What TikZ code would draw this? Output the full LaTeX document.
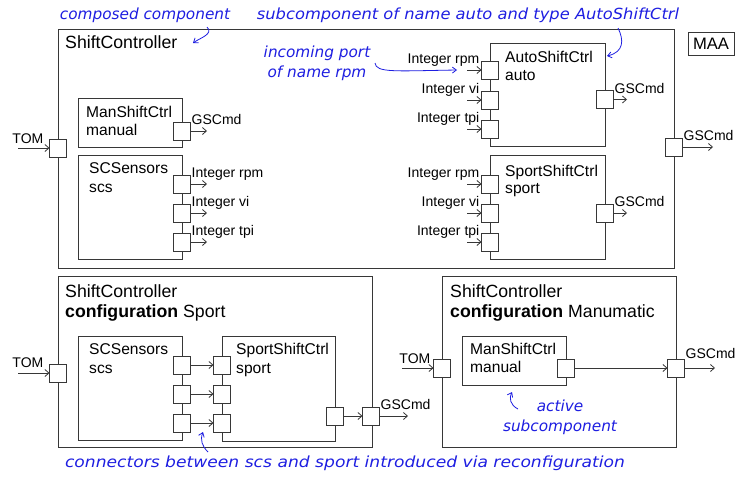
\documentclass[tikz,border=0pt]{standalone}
\usepackage{fontspec}
\setmainfont{Liberation Sans}
\newfontfamily\notefont{DejaVu Sans}
\usetikzlibrary{arrows.meta,calc}
\definecolor{linecol}{RGB}{55,55,55}
\definecolor{notecol}{RGB}{30,30,225}
\begin{document}
\begin{tikzpicture}[x=1pt,y=-1pt,
  comp/.style={draw=linecol, line width=1pt, fill=white, outer sep=0pt, inner sep=0pt, anchor=north west},
  port/.style={draw=linecol, line width=1pt, fill=white, minimum width=17pt, minimum height=18pt, inner sep=0pt, outer sep=0pt},
  lbl/.style={font=\fontsize{14}{16}\selectfont, inner sep=0pt},
  ttl/.style={font=\fontsize{17.7}{20}\selectfont, inner sep=0pt, anchor=base west},
  subttl/.style={font=\fontsize{15.6}{18}\selectfont, inner sep=0pt, anchor=base west},
  note/.style={text=notecol, font=\notefont\itshape\fontsize{15.3}{20}\selectfont, inner sep=0pt, align=center},
  flow/.style={-{Straight Barb[length=4pt,width=7pt]}, line width=0.8pt, draw=linecol},
  notearrow/.style={-{Straight Barb[length=4pt,width=6pt]}, draw=notecol, line width=0.8pt}]
\useasboundingbox (0,0) rectangle (735,477);

% ---------- composed component ShiftController ----------
\node[comp, minimum width=616pt, minimum height=239pt] (sc) at (58,29) {};
\node[ttl] (sct) at (65,48) {ShiftController};

% manual subcomponent
\node[comp, minimum width=104pt, minimum height=49pt] (man) at (78,98) {};
\node[subttl] (mant1) at (86,117) {ManShiftCtrl};
\node[subttl] (mant2) at (86,135) {manual};
\node[port] (mo) at (182,131) {};
\coordinate (moE) at (207,131);
\draw[flow] (mo.east) -- (moE);
\node[lbl, anchor=base west] (mol) at ($(mo.north east)+(1,2.5)$) {GSCmd};

% scs subcomponent
\node[comp, minimum width=104pt, minimum height=104pt] (scs) at (78,155) {};
\node[subttl] (scst1) at (89,173) {SCSensors};
\node[subttl] (scst2) at (89,192) {scs};
\foreach \n/\y/\t in {s1/184/rpm, s2/213/vi, s3/242/tpi}{
  \node[port] (\n) at (182,\y) {};
  \coordinate (\n E) at (207,\y);
  \draw[flow] (\n.east) -- (\n E);
  \node[lbl, anchor=base west] (\n l) at ($(\n.north east)+(1,2.5)$) {Integer \t};
}

% auto subcomponent
\node[comp, minimum width=115pt, minimum height=103pt] (auto) at (490,43) {};
\node[subttl] (autot1) at (505,62) {AutoShiftCtrl};
\node[subttl] (autot2) at (505,80) {auto};
\foreach \n/\y/\t in {a1/70/rpm, a2/100/vi, a3/129/tpi}{
  \node[port] (\n) at (490,\y) {};
  \coordinate (\n W) at (467,\y);
  \draw[flow] (\n W) -- (\n.west);
  \node[lbl, anchor=base east] (\n l) at ($(\n.north west)+(-2,2.5)$) {Integer \t};
}
\node[port] (ao) at (605,99.5) {};
\coordinate (aoE) at (627,99.5);
\draw[flow] (ao.east) -- (aoE);
\node[lbl, anchor=base west] (aol) at ($(ao.north east)+(1,2.5)$) {GSCmd};

% sport subcomponent
\node[comp, minimum width=115pt, minimum height=104pt] (sport) at (490,155) {};
\node[subttl] (sportt1) at (505,176) {SportShiftCtrl};
\node[subttl] (sportt2) at (505,193) {sport};
\foreach \n/\y/\t in {p1/184/rpm, p2/213/vi, p3/242/tpi}{
  \node[port] (\n) at (490,\y) {};
  \coordinate (\n W) at (467,\y);
  \draw[flow] (\n W) -- (\n.west);
  \node[lbl, anchor=base east] (\n l) at ($(\n.north west)+(-2,2.5)$) {Integer \t};
}
\node[port] (po) at (605,213) {};
\coordinate (poE) at (627,213);
\draw[flow] (po.east) -- (poE);
\node[lbl, anchor=base west] (pol) at ($(po.north east)+(1,2.5)$) {GSCmd};

% outer ports
\node[port] (tom) at (58,148) {};
\coordinate (tomW) at (18,148);
\draw[flow] (tomW) -- (tom.west);
\node[lbl, anchor=base east] (toml) at ($(tom.north west)+(-6,4)$) {TOM};
\node[port] (gsc) at (674,147) {};
\coordinate (gscE) at (713,147);
\draw[flow] (gsc.east) -- (gscE);
\node[lbl, anchor=base west] (gscl) at ($(gsc.north east)+(1,2.5)$) {GSCmd};

% MAA tag
\node[comp, minimum width=46pt, minimum height=23pt] (maa) at (688,32) {};
\node[font=\fontsize{16.6}{18}\selectfont, inner sep=0pt] (maat) at (maa.center) {MAA};

% ---------- configuration Sport ----------
\node[comp, minimum width=314pt, minimum height=171pt] (cs) at (58,276) {};
\node[ttl] (cst1) at (65,297) {ShiftController};
\node[ttl] (cst2) at (65,317) {\textbf{configuration} Sport};

\node[comp, minimum width=104pt, minimum height=104pt] (scs2) at (78,336) {};
\node[subttl] (scs2t1) at (89,354) {SCSensors};
\node[subttl] (scs2t2) at (89,373) {scs};
\node[comp, minimum width=113pt, minimum height=105pt] (sport2) at (222,336) {};
\node[subttl] (sport2t1) at (236,354) {SportShiftCtrl};
\node[subttl] (sport2t2) at (236,373) {sport};
\foreach \i/\y in {1/365, 2/394, 3/423}{
  \node[port] (c\i) at (182,\y) {};
  \node[port] (d\i) at (222,\y) {};
  \draw[flow] (c\i.east) -- (d\i.west);
}
\node[port] (do) at (335,416) {};
\node[port] (csg) at (371,416) {};
\draw[flow] (do.east) -- (csg.west);
\coordinate (csgE) at (408,416);
\draw[flow] (csg.east) -- (csgE);
\node[lbl, anchor=base west] (csgl) at ($(csg.north east)+(1,2)$) {GSCmd};
\node[port] (cst) at (58,373) {};
\coordinate (cstW) at (18,373);
\draw[flow] (cstW) -- (cst.west);
\node[lbl, anchor=base east] (cstl) at ($(cst.north west)+(-6,3)$) {TOM};

% ---------- configuration Manumatic ----------
\node[comp, minimum width=234pt, minimum height=171pt] (cm) at (442,276) {};
\node[ttl] (cmt1) at (450,297) {ShiftController};
\node[ttl] (cmt2) at (450,317) {\textbf{configuration} Manumatic};
\node[comp, minimum width=104pt, minimum height=49pt] (man2) at (462,336) {};
\node[subttl] (man2t1) at (470,354) {ManShiftCtrl};
\node[subttl] (man2t2) at (470,372) {manual};
\node[port] (mm) at (566,368) {};
\node[port] (cmg) at (676,368) {};
\draw[flow] (mm.east) -- (cmg.west);
\coordinate (cmgE) at (715,368);
\draw[flow] (cmg.east) -- (cmgE);
\node[lbl, anchor=base west] (cmgl) at ($(cmg.north east)+(1,-1)$) {GSCmd};
\node[port] (cmtom) at (442,368) {};
\coordinate (cmtomW) at (402,368);
\draw[flow] (cmtomW) -- (cmtom.west);
\node[lbl, anchor=base east] (cmtoml) at ($(cmtom.north west)+(-3,4)$) {TOM};

% ---------- annotations ----------
\node[note] (n1) at (145,15) {composed component};
\coordinate (n1a) at (207,27);
\draw[notearrow] (n1a) .. controls (214,34) and (200,38) .. (193,43);

\node[note] (n2) at (468,15) {\scalebox{1.065}[1]{subcomponent of name auto and type AutoShiftCtrl}};
\coordinate (n2a) at (618,28);
\draw[notearrow] (n2a) .. controls (624,40) and (624,52) .. (607,56);

\node[note] (n3) at (317,63) {incoming port\\of name rpm};
\coordinate (n3a) at (375,63);
\draw[notearrow] (n3a) .. controls (376,73) and (395,71) .. (457,70);

\node[note] (n4) at (345,463) {\scalebox{1.12}[1]{connectors between scs and sport introduced via reconfiguration}};
\coordinate (n4a) at (208,452);
\draw[notearrow] (n4a) .. controls (202,446) and (200,440) .. (203,432);

\node[note] (n5) at (560,417) {active\\subcomponent};
\coordinate (n5a) at (518,409);
\draw[notearrow] (n5a) .. controls (510,405) and (509,398) .. (512,392);
\end{tikzpicture}
\end{document}
